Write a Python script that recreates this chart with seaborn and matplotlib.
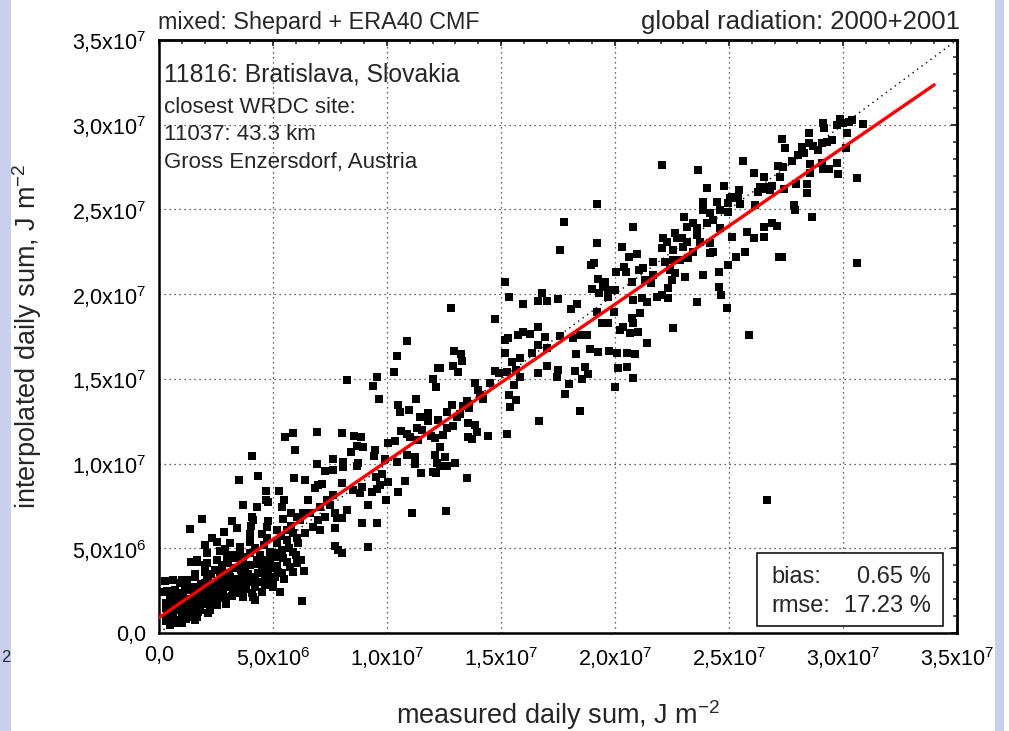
import numpy as np
import pandas as pd
import matplotlib
matplotlib.use("Agg")
import matplotlib.pyplot as plt
from matplotlib.ticker import MultipleLocator, FixedLocator
from matplotlib.patches import Rectangle
import seaborn as sns

# ---------------- data (values in 1e6 J m^-2) ----------------
# low range cluster
meas_a = [5.53,5.89,5.96,4.06,3.51,4.36,5.92,4.69,5.28,4.69,4.80,5.48,3.67,4.28,5.38,5.77,
          1.87,3.19,4.06,4.14,4.80,5.42,6.04,1.36,2.85,3.41,4.02,3.99,4.50,4.72,5.19,5.60,5.89,
          2.31,2.53,3.11,3.55,3.99,4.72,5.16,5.60,6.04,2.02,2.09,2.68,2.89,3.19,3.55,3.99,4.43,
          4.87,5.38,5.89,1.39,1.65,2.02,2.53,3.04,3.33,3.70,4.28,4.65,5.16,5.60,6.04,1.58,2.09,
          2.68,3.11,3.63,3.99,4.43,4.72,5.09,5.38,5.89,0.63,0.92,1.21,1.51,2.02,2.53,2.97,3.33,
          3.77,4.21,4.65,4.94,5.31,0.70,1.07,1.36,1.80,2.31,2.68,3.26,3.55,4.06,4.21,6.29,0.48,
          0.85,1.21,1.65,2.02,2.38,2.82,0.41,0.77,1.07,1.43,1.80,2.24,2.53,0.41,0.70,0.99,1.36,
          1.65,2.16,0.48,0.77]
interp_a = [11.59,11.79,10.80,10.47,9.03,9.27,9.17,8.38,8.38,7.85,7.75,7.85,7.56,7.42,7.46,7.07,
            6.73,6.63,6.87,6.67,6.63,6.73,6.87,6.12,5.96,6.18,6.32,5.84,5.84,6.28,6.08,6.08,5.88,
            5.59,5.39,5.33,5.10,5.39,5.59,5.29,5.49,5.59,5.20,4.70,4.84,4.94,4.61,4.80,4.70,4.61,
            4.80,4.90,4.80,4.17,4.21,4.01,4.31,4.11,3.82,4.11,4.31,3.92,3.96,4.21,4.11,3.46,3.33,
            3.62,3.33,3.52,3.33,3.52,3.13,3.33,3.52,3.62,3.13,2.93,3.13,2.74,2.93,2.83,3.13,2.93,
            2.83,2.74,2.83,2.93,2.44,2.54,2.34,2.54,2.34,2.34,2.24,2.50,2.38,2.34,1.95,1.89,1.95,
            1.85,1.85,1.85,1.95,2.05,2.05,1.46,1.36,1.26,1.46,1.36,1.46,1.65,0.96,0.77,0.87,1.06,
            0.96,1.16,0.57,0.67]

meas_b = [1.43,1.65,2.09,2.53,2.97,3.48,4.65,5.23,2.02,2.46,2.89,3.33,3.77,4.36,4.94,5.16,
          0.63,0.99,1.58,2.16,2.60,3.19,3.77,4.21,4.65,5.01,0.70,1.14,1.73,2.16,2.75,3.33,3.63,
          4.21,5.31,0.70,1.14,1.58,2.02,2.46,2.89,4.14,0.48,0.92,1.29,1.80,2.24,0.41,0.77,1.14,
          1.43,0.48,0.85,0.26,0.22,0.30,0.35,0.30]
interp_b = [4.21,4.31,4.11,4.31,4.51,4.41,4.31,4.51,3.62,3.72,3.52,3.82,3.92,3.52,3.82,3.92,
            3.13,3.13,3.33,3.13,2.93,3.13,3.23,3.13,3.23,3.13,2.54,2.64,2.54,2.64,2.74,2.54,2.44,
            2.74,2.44,1.95,1.95,2.05,2.15,2.24,2.15,2.15,1.36,1.46,1.55,1.55,1.36,0.87,0.77,1.06,
            0.96,0.47,0.57,3.05,2.40,1.80,1.20,0.70]

# solid part of the low cluster
meas_f = [0.55,0.60,0.90,1.00,1.25,1.30,1.50,1.55,1.70,1.90,1.95,2.10,2.20,2.35,2.40,2.60,
          2.70,2.80,3.00,3.05,3.20,3.40,3.45,3.60,3.80,3.90,4.00,4.10,4.35,4.40,4.50,4.80,
          4.85,5.00,5.10,5.20,5.45,5.50,5.70,5.75,6.00,6.10,1.00,1.20,1.60,0.60,0.30,0.35,
          1.85,2.30,2.75,3.25,3.70,4.20,4.60,5.35,5.80,2.95,3.70,4.50]
interp_f = [2.20,1.60,2.20,1.60,2.00,1.20,1.70,2.30,1.25,1.90,2.60,1.70,2.30,1.80,2.70,2.10,
            3.10,2.50,2.70,3.50,2.20,3.20,2.70,3.70,2.60,3.50,4.00,3.00,4.10,3.00,3.70,3.60,
            4.30,2.70,4.70,3.60,4.40,3.20,5.00,3.90,4.60,5.30,0.60,0.85,0.75,1.10,1.50,2.50,
            2.90,3.50,4.00,4.40,4.50,5.00,5.20,5.70,6.30,1.70,2.10,2.40]

# middle range
meas_c1 = [12.79,15.98,16.64,17.03,14.74,10.86,10.42,10.32,12.94,13.23,13.30,12.25,12.32,12.88,13.10,8.23,9.55,9.37,9.65,12.00,12.13]
interp_c1 = [19.17,19.42,19.60,19.62,18.52,17.24,16.37,15.39,16.65,16.45,16.08,15.66,15.66,15.76,15.43,14.93,15.13,14.58,13.81,14.97,14.50]
meas_c2 = [15.18,15.32,15.76,15.98,16.27,16.64,16.93,16.64,16.34,17.00,15.18,15.47,15.83,17.00,14.74,14.93,15.25,15.66,15.83,15.58,15.35,15.66,15.39,16.64,16.68,15.25]
interp_c2 = [17.30,17.39,17.59,17.75,17.63,18.04,17.49,17.00,16.51,16.80,16.51,16.02,16.21,15.76,15.49,15.37,15.43,15.53,15.13,14.64,14.05,13.75,13.36,15.33,12.51,11.75]
meas_c3 = [13.86,13.98,14.22,14.52,14.08,13.49,13.61,13.35]
interp_c3 = [14.74,14.34,13.79,14.78,14.05,13.71,13.26,13.40]
meas_c4 = [10.47,10.57,10.98,11.26,11.45,11.81,11.81,12.25,12.62,12.87,13.06,13.20]
interp_c4 = [13.46,13.06,13.16,13.81,12.77,13.00,12.53,12.57,13.06,13.46,12.77,12.91]
meas_c5 = [10.60,10.86,11.01,11.30,11.52,11.37,11.91,12.11,12.32,12.47,12.62,12.91,13.57,13.86,13.93,13.54,13.71,14.42]
interp_c5 = [11.94,11.75,11.55,12.08,11.98,11.39,11.63,11.49,11.00,11.69,12.08,12.22,12.37,12.28,11.88,11.59,11.43,11.63]
meas_c6 = [10.06,10.35,9.91,10.42,10.86,11.23,11.23,11.49,12.11,12.21,12.54,12.62,12.98,12.32,12.03,12.15,13.49]
interp_c6 = [11.19,11.33,10.27,10.11,10.51,10.41,9.95,9.46,10.51,10.01,10.41,9.88,10.05,9.86,9.52,9.42,9.17]
meas_c7 = [6.94,8.03,8.55,8.86,8.67,8.96,8.41,9.47,9.43,8.74,8.70,8.09,8.09,7.62,7.28,7.65,6.92]
interp_c7 = [11.84,11.82,11.65,11.59,11.04,10.96,10.70,10.80,10.47,10.05,9.88,10.11,9.82,10.25,9.58,9.62,9.95]
meas_c8 = [6.40,6.99,6.84,7.13,8.01,8.49,8.89,8.82,9.52,9.77,10.06,9.69,9.55,9.33,9.96,10.47,10.79,9.18,8.26]
interp_c8 = [9.03,8.73,8.54,8.79,8.83,8.44,8.64,8.24,9.23,9.38,8.93,8.73,8.48,8.34,7.85,8.34,8.97,7.55,7.26]
meas_c9 = [6.55,6.33,6.18,6.62,7.06,7.35,7.65,7.50,7.72,7.28,7.79,8.01,6.99,6.77,7.06,7.72,8.89,9.58,11.11,12.59]
interp_c9 = [7.85,7.06,6.67,7.06,7.46,7.85,8.14,7.55,7.06,6.87,6.77,6.77,6.67,6.27,6.08,6.17,6.51,6.47,7.10,7.22]
meas_c10 = [7.72,7.87,8.04,9.18,6.40,6.23,6.36]
interp_c10 = [5.13,4.90,4.70,5.09,5.88,4.31,3.68]

# upper-middle range
meas_d1 = [19.20,17.76,20.78,17.59,19.23,20.29,20.61,20.98]
interp_d1 = [25.32,24.24,23.95,22.61,23.00,22.77,22.21,22.37]
meas_d2 = [23.84,24.46,24.97,25.48,26.14,23.87,24.17,24.61,24.97,23.03,23.44,23.14,23.58,24.02,24.31,24.61,25.12,25.78,26.10,26.54,26.54,26.87,27.09]
interp_d2 = [25.46,25.46,25.36,25.32,25.26,24.97,24.77,24.97,24.87,24.58,24.18,23.99,23.89,24.18,24.38,23.89,23.40,23.69,23.30,23.99,23.40,24.18,24.02]
meas_d3 = [22.09,22.27,22.63,22.70,22.92,23.14,23.58,23.73,22.05,22.56,23.00,23.44,24.17,24.17,24.31,25.70,25.29,27.19]
interp_d3 = [23.30,23.10,23.59,23.30,23.30,23.10,23.49,23.10,22.71,22.61,22.80,22.51,23.00,22.41,22.51,22.51,22.21,22.21]
meas_d4 = [21.68,22.19,22.56,22.85,23.22,22.41,22.63,22.49,23.07,23.87,24.58,24.97]
interp_d4 = [21.92,21.92,22.02,22.02,22.12,21.43,21.23,20.84,21.03,21.13,21.33,21.72]
meas_d5 = [18.95,19.09,20.04,20.39,20.47,21.07,21.24,20.73,21.68,21.56,21.32,19.27,19.56,19.46,19.68,18.98,19.31,19.71,20.00,20.80,21.17,21.39,21.83,22.05,22.34,22.34,23.61,24.58,24.63,24.90]
interp_d5 = [21.72,21.86,21.33,21.62,21.33,21.43,21.53,20.74,21.13,20.64,20.84,20.88,20.74,20.44,20.25,20.29,20.09,19.81,20.25,19.66,19.75,19.56,19.85,19.95,19.75,20.34,19.56,20.40,19.95,19.16]
meas_d6 = [15.18,15.35,16.78,17.49,18.07,18.32,19.20,19.42,19.71,19.97,20.37,20.22,20.73,20.80,20.66,21.02,21.10,21.39,22.53,25.89]
interp_d6 = [20.74,19.81,20.05,19.72,19.12,19.42,18.93,18.28,18.28,18.97,18.08,17.89,18.57,18.28,17.69,17.79,18.87,17.10,18.02,17.59]
meas_d7 = [17.59,18.17,18.46,18.76,18.29,18.90,19.27,19.75,20.07,20.54,20.88]
interp_d7 = [17.53,17.43,17.59,17.59,16.45,16.74,16.59,16.66,16.51,16.51,16.45]
meas_d8 = [17.51,17.44,18.00,17.81,18.25,18.54,18.68,18.83,20.15,20.51,20.78,20.00,18.46]
interp_d8 = [15.52,15.13,14.68,14.11,15.48,14.97,15.72,15.27,15.62,15.72,15.03,14.50,13.08]

# high range
meas_e1 = [29.87,30.01,30.28,30.38,29.72,29.14,29.18,30.86,28.51,30.16]
interp_e1 = [30.32,30.09,30.18,30.28,29.99,30.09,29.79,30.03,29.53,29.53]
meas_e2 = [27.31,27.46,28.19,28.52,28.70,28.92,29.28,29.50,29.06,30.13]
interp_e2 = [29.14,28.61,28.71,28.90,28.75,28.51,29.00,29.10,28.90,28.61]
meas_e3 = [27.75,28.04,28.29,27.16,27.35,28.55,29.06,29.14,29.39,29.72,29.77,30.63]
interp_e3 = [27.88,28.21,28.35,27.57,27.49,27.68,27.76,27.37,27.37,27.76,27.09,26.84]
meas_e4 = [25.60,22.08,23.66,26.10,26.54,27.24,28.55,28.41,27.92,27.43,28.41]
interp_e4 = [27.88,27.65,27.31,27.17,26.94,26.90,27.13,26.50,26.48,26.19,25.95]
meas_e5 = [24.02,24.78,25.45,26.29,26.51,26.65,26.87,26.36,26.80,25.12,25.41,25.04]
interp_e5 = [26.25,26.40,26.15,26.05,26.19,26.35,26.39,26.35,26.15,25.76,25.66,25.70]
meas_e6 = [27.85,27.89,28.63,27.31,30.60,26.67]
interp_e6 = [25.26,24.97,24.54,22.21,21.82,7.85]

# regression line (J m^-2)
fit_intercept = 0.9e6
fit_slope = 0.925
fit_x_range = [0.0, 3.4e7]

tick_values = [0, 5e6, 1e7, 1.5e7, 2e7, 2.5e7, 3e7, 3.5e7]
tick_labels = ['0,0', '5,0x10$^{6}$', '1,0x10$^{7}$', '1,5x10$^{7}$', '2,0x10$^{7}$',
               '2,5x10$^{7}$', '3,0x10$^{7}$', '3,5x10$^{7}$']

scale = 1e6
measured = np.concatenate([meas_a, meas_b, meas_f, meas_c1, meas_c2, meas_c3, meas_c4, meas_c5,
                           meas_c6, meas_c7, meas_c8, meas_c9, meas_c10, meas_d1, meas_d2, meas_d3,
                           meas_d4, meas_d5, meas_d6, meas_d7, meas_d8, meas_e1, meas_e2, meas_e3,
                           meas_e4, meas_e5, meas_e6]) * scale
interpolated = np.concatenate([interp_a, interp_b, interp_f, interp_c1, interp_c2, interp_c3,
                               interp_c4, interp_c5, interp_c6, interp_c7, interp_c8, interp_c9,
                               interp_c10, interp_d1, interp_d2, interp_d3, interp_d4, interp_d5,
                               interp_d6, interp_d7, interp_d8, interp_e1, interp_e2, interp_e3,
                               interp_e4, interp_e5, interp_e6]) * scale
df = pd.DataFrame({'measured': measured, 'interpolated': interpolated})

# ---------------- style ----------------
sns.set_style("white")
plt.rcParams['font.family'] = ['Liberation Sans', 'DejaVu Sans']
plt.rcParams['mathtext.fontset'] = 'custom'
plt.rcParams['mathtext.rm'] = 'Liberation Sans'
plt.rcParams['mathtext.it'] = 'Liberation Sans:italic'
plt.rcParams['mathtext.bf'] = 'Liberation Sans:bold'

W, H = 1009, 731
fig = plt.figure(figsize=(W / 100, H / 100), dpi=100)
ax = fig.add_axes([159 / W, 1 - 633 / H, 798 / W, 593 / H])

# grid
ax.set_axisbelow(True)
ax.grid(True, which='major', linestyle=(0, (1, 3)), color='#333333', linewidth=0.9)

# points
sns.scatterplot(data=df, x='measured', y='interpolated', marker='s', s=26, color='black',
                linewidth=0, ax=ax, zorder=3, legend=False)

# 1:1 line
ax.axline((0, 0), slope=1, color='black', linestyle=(0, (1, 3)), linewidth=1.0, zorder=4)

# regression line
fx = np.array(fit_x_range)
sns.lineplot(x=fx, y=fit_intercept + fit_slope * fx, color='#ff0000', linewidth=2.4, ax=ax, zorder=5)

ax.set_xlim(0, 3.5e7)
ax.set_ylim(0, 3.5e7)

ax.xaxis.set_major_locator(FixedLocator(tick_values))
ax.yaxis.set_major_locator(FixedLocator(tick_values))
ax.set_xticklabels(tick_labels)
ax.set_yticklabels(tick_labels)
ax.xaxis.set_minor_locator(MultipleLocator(1e6))
ax.yaxis.set_minor_locator(MultipleLocator(1e6))
ax.tick_params(which='major', direction='out', length=4.5, width=1.3, labelsize=15.5, pad=4.5,
               colors='black')
ax.tick_params(which='minor', direction='out', length=3, width=1.1)

for sp in ax.spines.values():
    sp.set_linewidth(1.8)
    sp.set_color('black')

# inner ticks on top and right
secx = ax.secondary_xaxis('top')
secx.xaxis.set_major_locator(FixedLocator(tick_values))
secx.xaxis.set_minor_locator(MultipleLocator(1e6))
secx.tick_params(which='major', direction='in', length=4.5, width=1.3, labeltop=False)
secx.tick_params(which='minor', direction='in', length=3, width=1.1)
secx.spines['top'].set_linewidth(1.8)
secy = ax.secondary_yaxis('right')
secy.yaxis.set_major_locator(FixedLocator(tick_values))
secy.yaxis.set_minor_locator(MultipleLocator(1e6))
secy.tick_params(which='major', direction='in', length=4.5, width=1.3, labelright=False)
secy.tick_params(which='minor', direction='in', length=3, width=1.1)
secy.spines['right'].set_linewidth(1.8)

ax.set_xlabel('measured daily sum, J m$^{-2}$', fontsize=19.5)
ax.set_ylabel('interpolated daily sum, J m$^{-2}$', fontsize=19.5)
ax.yaxis.set_label_coords(-0.144, 0.5)
ax.xaxis.set_label_coords(0.5, -0.110)

# titles
fig.text(158 / W, 1 - 29 / H, 'mixed: Shepard + ERA40 CMF', fontsize=16.8, ha='left', va='baseline')
fig.text(960 / W, 1 - 29 / H, 'global radiation: 2000+2001', fontsize=18.5, ha='right', va='baseline')

# station annotations
ax.text(0.006, 0.941, '11816: Bratislava, Slovakia', transform=ax.transAxes, fontsize=17.8,
        ha='left', va='center', zorder=6)
ax.text(0.006, 0.887, 'closest WRDC site:', transform=ax.transAxes, fontsize=16,
        ha='left', va='center', zorder=6)
ax.text(0.006, 0.840, '11037: 43.3 km', transform=ax.transAxes, fontsize=16,
        ha='left', va='center', zorder=6)
ax.text(0.006, 0.793, 'Gross Enzersdorf, Austria', transform=ax.transAxes, fontsize=16,
        ha='left', va='center', zorder=6)

# statistics box
ax.add_patch(Rectangle((0.749, 0.012), 0.233, 0.123, transform=ax.transAxes, facecolor='white',
                       edgecolor='black', linewidth=1.1, zorder=7))
ax.text(0.767, 0.094, 'bias:', transform=ax.transAxes, fontsize=17, ha='left', va='center', zorder=8)
ax.text(0.967, 0.094, '0.65 %', transform=ax.transAxes, fontsize=17, ha='right', va='center', zorder=8)
ax.text(0.767, 0.046, 'rmse:', transform=ax.transAxes, fontsize=17, ha='left', va='center', zorder=8)
ax.text(0.967, 0.046, '17.23 %', transform=ax.transAxes, fontsize=17, ha='right', va='center', zorder=8)

# side strips of the page
lav = '#c9d0ee'
fig.patches.append(Rectangle((0, 0), 11 / W, 1, transform=fig.transFigure, facecolor=lav,
                             edgecolor='none', zorder=20))
fig.patches.append(Rectangle((995 / W, 0), 9 / W, 1, transform=fig.transFigure, facecolor=lav,
                             edgecolor='none', zorder=20))
fig.patches.append(Rectangle((1004 / W, 0), 5 / W, 1, transform=fig.transFigure, facecolor='white',
                             edgecolor='none', zorder=20))
fig.text(1.5 / W, 1 - 657 / H, '2', fontsize=12, ha='left', va='center', zorder=25)

fig.savefig('out.png', dpi=100)
